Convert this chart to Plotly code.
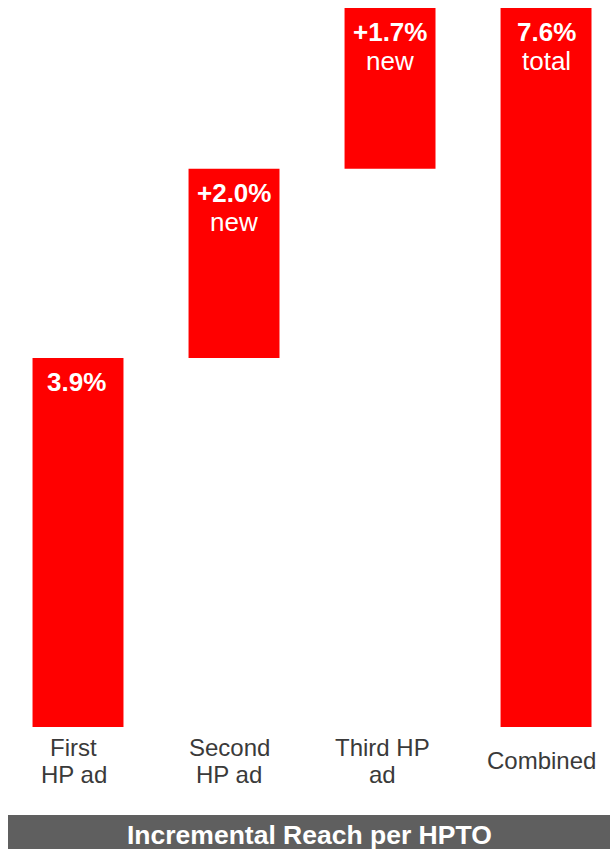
import plotly.graph_objects as go

# Reach data per homepage takeover (percent)
categories = [["First", "HP ad"], ["Second", "HP ad"], ["Third HP", "ad"], ["Combined"]]
increments = [3.9, 2.0, 1.7]
total = 7.6
sublabels = ["", "new", "new", "total"]
banner_title = "Incremental Reach per HPTO"

# Floating bars: each increment starts where the previous one ended
values = increments + [total]
bases = []
running = 0.0
for v in increments:
    bases.append(running)
    running += v
bases.append(0.0)

RED = "#ff0000"
FONT = "Liberation Sans, Arial, sans-serif"
W, H = 610, 849

# Horizontal centres (px) of the text blocks under the bars
label_centers_px = [73.5, 229, 382, 541.5]

fig = go.Figure()
fig.add_trace(go.Bar(
    x=list(range(len(values))),
    y=values,
    base=bases,
    width=0.583,
    marker=dict(color=RED, line=dict(width=0)),
    hoverinfo="skip",
))

annotations = []
# Value labels inside the top of each bar (one annotation per line for tight spacing)
for i, (v, b, sub) in enumerate(zip(values, bases, sublabels)):
    head = f"{v:.1f}%"
    if 0 < i < len(values) - 1:
        head = "+" + head
    annotations.append(dict(
        x=i, y=b + v, xref="x", yref="y",
        text=f"<b>{head}</b>", showarrow=False,
        xanchor="center", yanchor="middle", yshift=-24,
        xshift=-2 if i == 0 else 0,
        font=dict(family=FONT, size=26, color="white"),
    ))
    if sub:
        annotations.append(dict(
            x=i, y=b + v, xref="x", yref="y",
            text=sub, showarrow=False,
            xanchor="center", yanchor="middle", yshift=-53,
            font=dict(family=FONT, size=26, color="white"),
        ))

# Category labels under the bars
for lines, cx in zip(categories, label_centers_px):
    centers = [760] if len(lines) == 1 else [747, 774]
    for line, cy in zip(lines, centers):
        annotations.append(dict(
            x=cx / W, y=1 - cy / H, xref="paper", yref="paper",
            text=line, showarrow=False,
            xanchor="center", yanchor="middle",
            font=dict(family=FONT, size=24, color="#3a3a3a"),
        ))

# Title text on the grey banner
annotations.append(dict(
    x=(8 + W) / 2 / W, y=1 - 835 / H, xref="paper", yref="paper",
    text=f"<b>{banner_title}</b>", showarrow=False,
    xanchor="center", yanchor="middle",
    font=dict(family=FONT, size=26.5, color="white"),
))

fig.update_layout(
    width=W, height=H,
    margin=dict(l=0, r=0, t=0, b=0),
    paper_bgcolor="white", plot_bgcolor="white",
    showlegend=False,
    xaxis=dict(range=[-0.5, 3.41], visible=False, fixedrange=True),
    yaxis=dict(range=[-1.2896, 7.6846], visible=False, fixedrange=True),
    shapes=[dict(
        type="rect", xref="paper", yref="paper",
        x0=8 / W, x1=1, y0=0, y1=1 - 815 / H,
        fillcolor="#5f5f5f", line=dict(width=0), layer="below",
    )],
    annotations=annotations,
)

fig.write_html("out.html")
